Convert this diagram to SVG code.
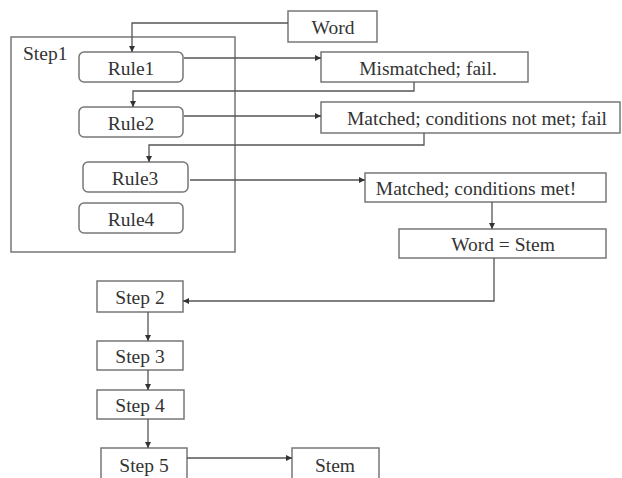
<svg xmlns="http://www.w3.org/2000/svg" width="622" height="478" viewBox="0 0 622 478">
<defs>
<marker id="ah" viewBox="0 0 10 10" refX="10" refY="5" markerWidth="6" markerHeight="6" orient="auto" markerUnits="userSpaceOnUse">
<path d="M0,0 L10,5 L0,10 z" fill="#333"/>
</marker>
<style>
.box{fill:#fff;stroke:#777;stroke-width:1.5}
.frame{fill:none;stroke:#777;stroke-width:1.5}
.t{font-size:19.5px;fill:#333;text-anchor:middle}
.c{fill:none;stroke:#555;stroke-width:1.3;marker-end:url(#ah)}
</style>
</defs>
<rect width="622" height="478" fill="#fff"/>
<g font-family="Liberation Serif, Tinos, Times New Roman, DejaVu Serif, serif">
<g id="step1">
<rect class="frame" x="11" y="37" width="224" height="215"/>
<text class="t" x="23" y="60" style="text-anchor:start">Step1</text>
</g>
<g id="word"><rect class="box" x="288" y="11" width="89" height="31"/><text class="t" x="333" y="34">Word</text></g>
<g id="rule1"><rect class="box" x="79" y="52" width="104" height="30" rx="5"/><text class="t" x="131" y="75">Rule1</text></g>
<g id="rule2"><rect class="box" x="79" y="107" width="104" height="30" rx="5"/><text class="t" x="131" y="130">Rule2</text></g>
<g id="rule3"><rect class="box" x="83" y="162" width="105" height="30" rx="5"/><text class="t" x="135" y="185">Rule3</text></g>
<g id="rule4"><rect class="box" x="79" y="203" width="104" height="30" rx="5"/><text class="t" x="131" y="226">Rule4</text></g>
<g id="mismatched"><rect class="box" x="321" y="52" width="207" height="30"/><text class="t" x="428" y="75">Mismatched; fail.</text></g>
<g id="notmet"><rect class="box" x="321" y="102" width="299" height="31"/><text class="t" x="477" y="125">Matched; conditions not met; fail</text></g>
<g id="met"><rect class="box" x="365" y="173" width="241" height="29"/><text class="t" x="476" y="195">Matched; conditions met!</text></g>
<g id="wordstem"><rect class="box" x="399" y="229" width="207" height="29"/><text class="t" x="503" y="251">Word = Stem</text></g>
<g id="step2"><rect class="box" x="97" y="281" width="86" height="31"/><text class="t" x="140" y="304">Step 2</text></g>
<g id="step3"><rect class="box" x="97" y="341" width="86" height="29"/><text class="t" x="140" y="363">Step 3</text></g>
<g id="step4"><rect class="box" x="97" y="390" width="87" height="29"/><text class="t" x="140" y="412">Step 4</text></g>
<g id="step5"><rect class="box" x="101" y="448" width="86" height="34"/><text class="t" x="144" y="472">Step 5</text></g>
<g id="stem"><rect class="box" x="292" y="448" width="87" height="34"/><text class="t" x="335" y="472">Stem</text></g>
</g>
<g id="connectors">
<path class="c" d="M288,23 H132 V52"/>
<path class="c" d="M184,58 H321"/>
<path class="c" d="M414,82 V91 H133 V107"/>
<path class="c" d="M184,116 H321"/>
<path class="c" d="M424,133 V145 H149 V162"/>
<path class="c" d="M190,180 H365"/>
<path class="c" d="M492,202 V229"/>
<path class="c" d="M494,258 V301 H183"/>
<path class="c" d="M148,312 V341"/>
<path class="c" d="M148,370 V390"/>
<path class="c" d="M148,419 V448"/>
<path class="c" d="M187,458 H292"/>
</g>
</svg>
